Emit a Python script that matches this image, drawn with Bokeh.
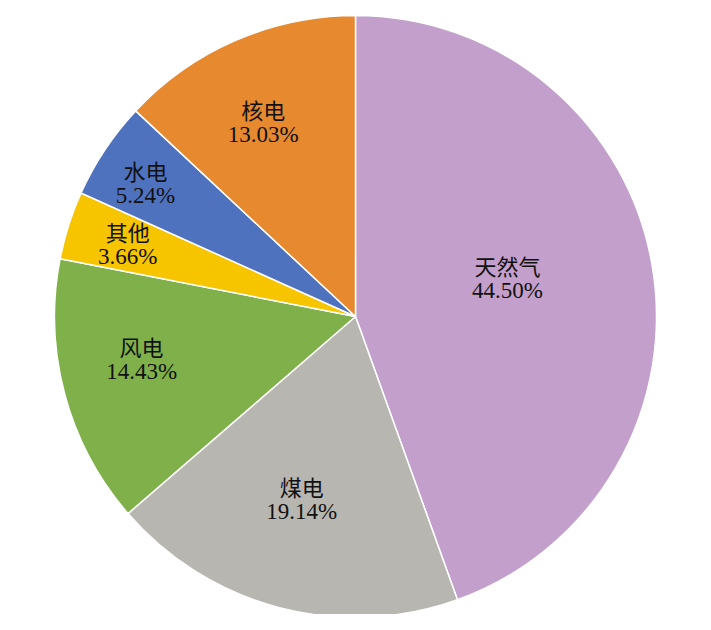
import numpy as np
from bokeh.plotting import figure
from bokeh.models import ColumnDataSource, Range1d
from bokeh.core.properties import value
from bokeh.embed import file_html
from bokeh.resources import INLINE

# Data (clockwise from 12 o'clock)
categories = ["天然气", "煤电", "风电", "其他", "水电", "核电"]
shares = [44.50, 19.14, 14.43, 3.66, 5.24, 13.03]
colors = ["#C39FCC", "#B8B6B1", "#7FB04A", "#F6C500", "#4F72BE", "#E6892F"]
# label placement (layout)
label_radius_frac = [0.52, 0.634, 0.725, 0.793, 0.824, 0.711]
label_angle_shift_deg = [-3.8, 1.7, 3.5, -0.3, -1.5, -2.1]

W, H = 695, 614
cx, cy, R = 355, -316, 301

frac = np.array(shares) / 100.0
cum_after = np.cumsum(frac)
cum_before = cum_after - frac
start = np.pi / 2 - 2 * np.pi * cum_after
end = np.pi / 2 - 2 * np.pi * cum_before
mid = (start + end) / 2 - np.radians(label_angle_shift_deg)
lr = np.array(label_radius_frac) * R
lx = cx + lr * np.cos(mid)
ly = cy + lr * np.sin(mid)

src = ColumnDataSource(dict(
    start=start, end=end, color=colors,
    name=categories, pct=[f"{s:.2f}%" for s in shares],
    lx=lx, ly_top=ly + 11.5, ly_bot=ly - 11.5,
))

p = figure(width=W, height=H, output_backend="svg", toolbar_location=None,
           x_range=Range1d(0, W), y_range=Range1d(-H, 0),
           min_border=0)
p.axis.visible = False
p.grid.visible = False
p.outline_line_color = None
p.background_fill_color = "white"

p.wedge(x=cx, y=cy, radius=R, start_angle="start", end_angle="end",
        fill_color="color", line_color="white", line_width=1.5, source=src)

font = value("Liberation Serif, Noto Sans CJK SC")
p.text(x="lx", y="ly_top", text="name", source=src, text_font=font,
       text_font_size="22px", text_align="center", text_baseline="middle",
       text_color="#111111")
p.text(x="lx", y="ly_bot", text="pct", source=src, text_font=font,
       text_font_size="23px", text_align="center", text_baseline="middle",
       text_color="#111111")

open("out.html", "w").write(file_html(p, INLINE))
